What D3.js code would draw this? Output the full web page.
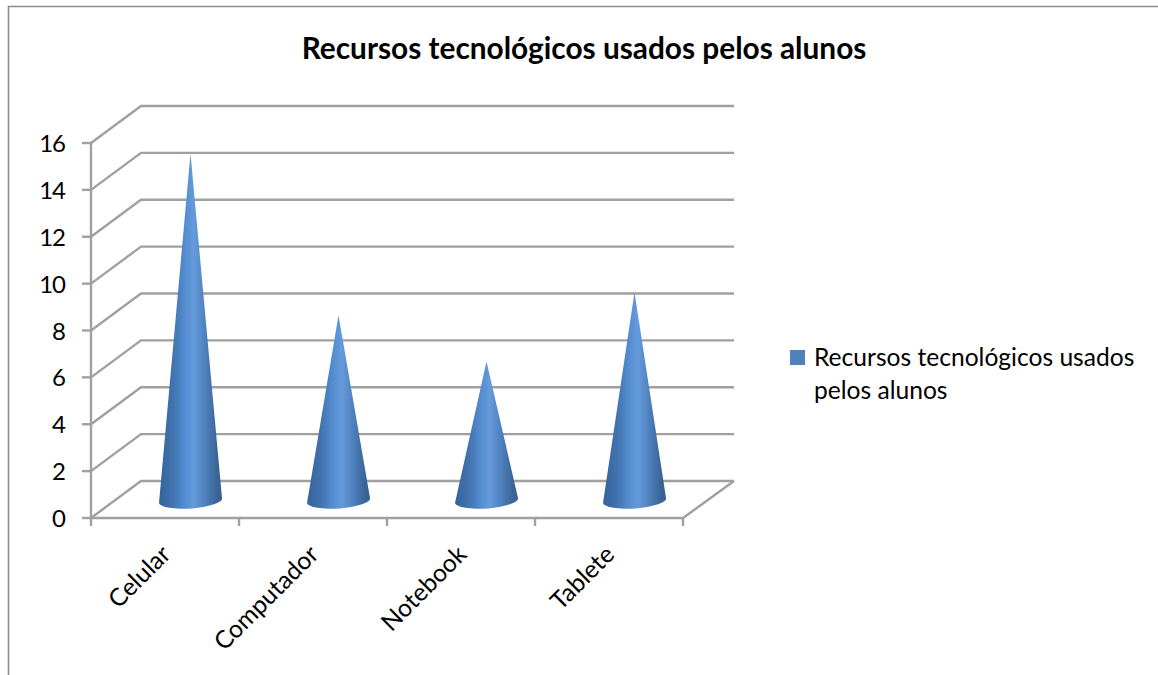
<!DOCTYPE html>
<html><head><meta charset="utf-8">
<script src="https://cdn.jsdelivr.net/npm/d3@7"></script>
<style>html,body{margin:0;padding:0;background:#fff}svg{display:block}text{font-family:Lato,"Open Sans",sans-serif;fill:#000}</style>
</head><body>
<svg id="c" width="1158" height="675"></svg>
<script>
const chartTitle = "Recursos tecnológicos usados pelos alunos";
const categories = ["Celular","Computador","Notebook","Tablete"];
const values = [15,8,6,9];
const yTicks = [0,2,4,6,8,10,12,14,16];
const legendLines = ["Recursos tecnológicos usados","pelos alunos"];

const svg = d3.select("#c");
const grey = "#a0a0a0";
const depthX = 50, depthY = -37;
const y = d3.scaleLinear().domain([0,16]).range([518,143]);
const x = d3.scaleBand().domain(categories).range([91,683]);
const coneY = d3.scaleLinear().domain([0,16]).range([500,130.5]);
const coneX = c => x(c) + x.bandwidth()/2 + depthX/2 + 0.5;

const defs = svg.append("defs");
const g = defs.append("linearGradient").attr("id","cone").attr("x1",0).attr("x2",1).attr("y1",0).attr("y2",0);
[[0,"#33639b"],[0.22,"#4273ae"],[0.38,"#5089cc"],[0.55,"#659bdc"],[0.72,"#4f82c0"],[0.92,"#3a6596"],[1,"#355f90"]]
 .forEach(s=>g.append("stop").attr("offset",s[0]).attr("stop-color",s[1]));

// frame
svg.append("path").attr("d","M8.5,675V6.5H1158").attr("fill","none").attr("stroke","#8c8c8c").attr("stroke-width",1.6);

// gridlines
const grid = svg.append("g").attr("fill","none").attr("stroke",grey).attr("stroke-width",2.4);
yTicks.forEach(t=>{
  grid.append("path").attr("d",d3.line()([[x.range()[0],y(t)],[x.range()[0]+depthX,y(t)+depthY],[x.range()[1]+depthX+1,y(t)+depthY]]));
});
// floor right edge and front axis
grid.append("path").attr("d",d3.line()([[x.range()[1]+depthX+1,y(0)+depthY],[x.range()[1],y(0)],[x.range()[0],y(0)],[x.range()[0],y(16)]]));
// ticks
yTicks.forEach(t=>grid.append("line").attr("x1",x.range()[0]-9).attr("x2",x.range()[0]).attr("y1",y(t)).attr("y2",y(t)));
const xEdges = categories.map(c=>x(c)).concat(x.range()[1]);
xEdges.forEach(v=>grid.append("line").attr("x1",v).attr("x2",v).attr("y1",y(0)).attr("y2",y(0)+8));

// y labels
svg.append("g").selectAll("text").data(yTicks).join("text")
  .attr("x",65).attr("y",d=>y(d)+9).attr("text-anchor","end").attr("font-size",24).attr("letter-spacing",-1).text(d=>d);

// cones
svg.append("g").selectAll("path").data(categories).join("path")
  .attr("fill","url(#cone)")
  .attr("d",(c,i)=>{
    const cx = coneX(c), b = coneY(0), top = coneY(values[i]);
    return `M${cx},${top}L${cx+31.5},${b-2}A31.5,8 -4 0 1 ${cx-31.5},${b+3}Z`;
  });

// x labels
svg.append("g").selectAll("text").data(categories).join("text")
  .attr("text-anchor","end").attr("font-size",24.6)
  .attr("transform",c=>`translate(${x(c)+x.bandwidth()/2+7},${y(0)+38}) rotate(-45)`)
  .text(c=>c);

// title
svg.append("text").attr("x",584).attr("y",59).attr("text-anchor","middle")
  .attr("font-size",29.8).attr("font-weight",700).text(chartTitle);

// legend
svg.append("rect").attr("x",790).attr("y",350).attr("width",15).attr("height",15).attr("fill","#4f81bd");
svg.append("g").selectAll("text").data(legendLines).join("text")
  .attr("x",814).attr("y",(d,i)=>366+i*33).attr("font-size",24.6).text(d=>d);
</script>
</body></html>
